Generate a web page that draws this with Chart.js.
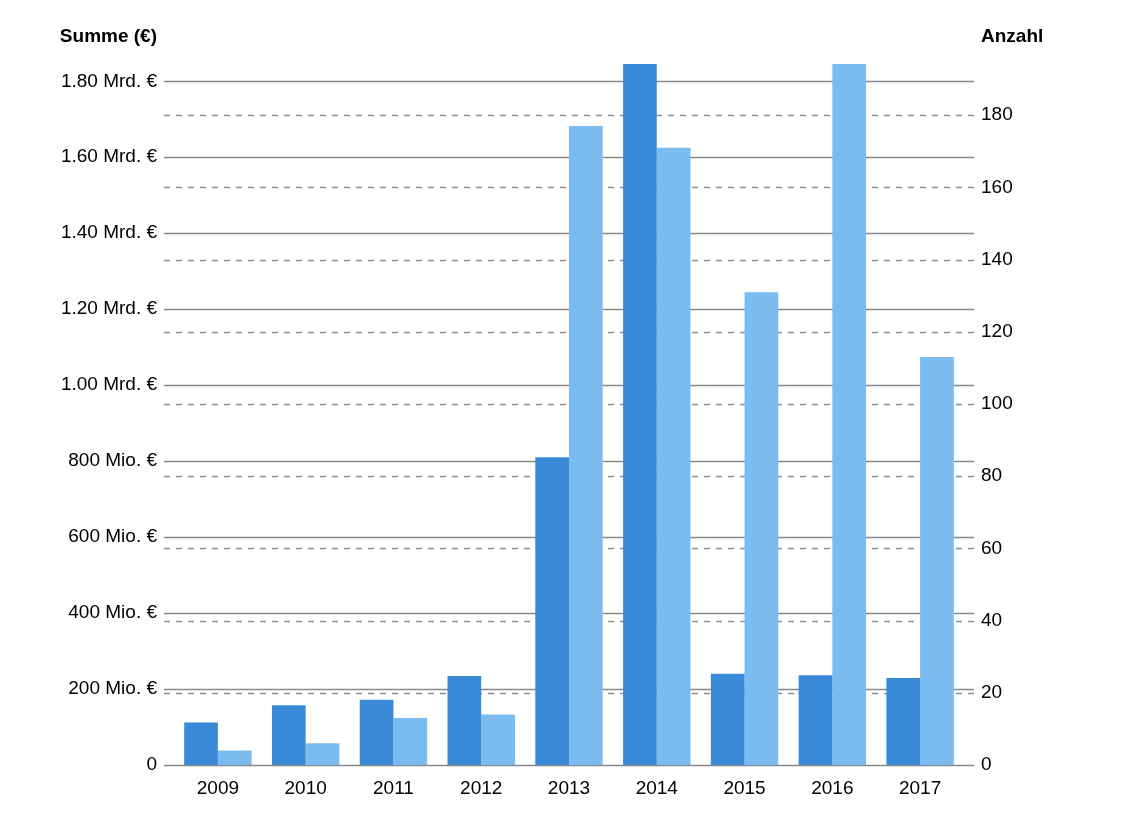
<!DOCTYPE html>
<html>
<head>
<meta charset="utf-8">
<style>
  html, body { margin: 0; padding: 0; background: #fff; }
  #wrap { position: relative; width: 1124px; height: 834px; }
</style>
<script src="https://cdn.jsdelivr.net/npm/chart.js@4/dist/chart.umd.min.js"></script>
</head>
<body>
<div id="wrap"><canvas id="c" width="1124" height="834"></canvas></div>
<script>
const years = ['2009', '2010', '2011', '2012', '2013', '2014', '2015', '2016', '2017'];
const summe = [112e6, 157e6, 172e6, 234e6, 810e6, 1.95e9, 240e6, 236e6, 229e6];
const anzahl = [4, 6, 13, 14, 177, 171, 131, 205, 113];
const leftTickValues = [0, 2e8, 4e8, 6e8, 8e8, 1e9, 1.2e9, 1.4e9, 1.6e9, 1.8e9];
const leftTickLabels = ['0', '200 Mio. €', '400 Mio. €', '600 Mio. €', '800 Mio. €', '1.00 Mrd. €', '1.20 Mrd. €', '1.40 Mrd. €', '1.60 Mrd. €', '1.80 Mrd. €'];
const rightTickValues = [0, 20, 40, 60, 80, 100, 120, 140, 160, 180];
const rightTickLabels = ['0', '20', '40', '60', '80', '100', '120', '140', '160', '180'];
const leftTitle = 'Summe (€)';
const rightTitle = 'Anzahl';

const FONT = '"Liberation Sans", Arial, Helvetica, sans-serif';

const gridPlugin = {
  id: 'customGrid',
  beforeDatasetsDraw(chart) {
    const ctx = chart.ctx;
    const a = chart.chartArea;
    const x0 = a.left - 10, x1 = a.right + 10;
    ctx.save();
    // dashed grid of right axis
    const yr = chart.scales.yRight;
    ctx.strokeStyle = '#8f8f8f';
    ctx.lineWidth = 1.5;
    ctx.setLineDash([6, 6]);
    rightTickValues.forEach(v => {
      if (v === 0) return;
      const y = Math.round(yr.getPixelForValue(v)) + 0.5;
      ctx.beginPath(); ctx.moveTo(x0, y); ctx.lineTo(x1, y); ctx.stroke();
    });
    // solid grid of left axis
    const yl = chart.scales.yLeft;
    ctx.setLineDash([]);
    ctx.strokeStyle = '#888888';
    leftTickValues.forEach(v => {
      const y = Math.round(yl.getPixelForValue(v)) + 0.5;
      ctx.beginPath(); ctx.moveTo(x0, y); ctx.lineTo(x1, y); ctx.stroke();
    });
    ctx.restore();
  },
  afterDraw(chart) {
    const ctx = chart.ctx;
    const a = chart.chartArea;
    ctx.save();
    ctx.fillStyle = '#000';
    ctx.font = 'bold 19px ' + FONT;
    ctx.textBaseline = 'middle';
    ctx.textAlign = 'right';
    ctx.fillText(leftTitle, a.left - 17, 37);
    ctx.textAlign = 'left';
    ctx.fillText(rightTitle, a.right + 17, 37);
    ctx.restore();
  }
};

new Chart(document.getElementById('c'), {
  type: 'bar',
  data: {
    labels: years,
    datasets: [
      { label: 'Summe', data: summe, yAxisID: 'yLeft', backgroundColor: '#3a8ad8', borderWidth: 0 },
      { label: 'Anzahl', data: anzahl, yAxisID: 'yRight', backgroundColor: '#7abbf0', borderWidth: 0 }
    ]
  },
  options: {
    responsive: false,
    animation: false,
    devicePixelRatio: 1,
    layout: { padding: { top: 64, left: 0, right: 0, bottom: 0 } },
    plugins: {
      legend: { display: false },
      tooltip: { enabled: false },
      title: { display: false }
    },
    datasets: { bar: { categoryPercentage: 0.768, barPercentage: 1.0 } },
    scales: {
      x: {
        grid: { display: false, drawTicks: false },
        border: { display: false },
        ticks: { color: '#000', font: { family: FONT, size: 19 }, padding: 12, maxRotation: 0 },
        afterFit(s) { s.height = 69; }
      },
      yLeft: {
        position: 'left',
        min: 0,
        max: 1.8455e9,
        grid: { display: false, drawTicks: false },
        border: { display: false },
        afterBuildTicks(s) { s.ticks = leftTickValues.map(v => ({ value: v })); },
        ticks: {
          color: '#000',
          font: { family: FONT, size: 19 },
          padding: 17,
          callback(value) {
            const i = leftTickValues.indexOf(value);
            return i >= 0 ? leftTickLabels[i] : '';
          }
        },
        afterFit(s) { s.width = 174; }
      },
      yRight: {
        position: 'right',
        min: 0,
        max: 194.2,
        grid: { display: false, drawTicks: false },
        border: { display: false },
        afterBuildTicks(s) { s.ticks = rightTickValues.map(v => ({ value: v })); },
        ticks: {
          color: '#000',
          font: { family: FONT, size: 19 },
          padding: 17,
          callback(value) {
            const i = rightTickValues.indexOf(value);
            return i >= 0 ? rightTickLabels[i] : '';
          }
        },
        afterFit(s) { s.width = 160; }
      }
    }
  },
  plugins: [gridPlugin]
});
</script>
</body>
</html>
